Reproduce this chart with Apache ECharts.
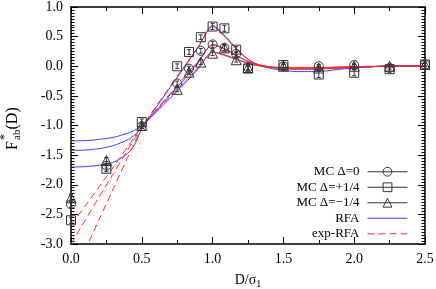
<!DOCTYPE html>
<html>
<head>
<meta charset="utf-8">
<script src="https://cdn.jsdelivr.net/npm/echarts@6/dist/echarts.min.js"></script>
<style>html,body{margin:0;padding:0;background:#fff;}#c{width:436px;height:289px;}</style>
</head>
<body>
<div id="c"></div>
<script>
// ---- data ----
const D_CURVE = [0,0.1,0.2,0.3,0.4,0.45,0.5,0.6,0.7,0.8,0.9,1.0,1.1,1.2,1.3,1.4,1.5,1.6,1.7,1.8,1.9,2.0,2.1,2.2,2.3,2.4,2.5];
const rfaZero  = [-1.42,-1.415,-1.39,-1.34,-1.24,-1.16,-1.03,-0.76,-0.48,-0.22,0.07,0.37,0.28,0.14,0.03,-0.02,-0.04,-0.05,-0.05,-0.04,-0.03,-0.02,-0.01,0.0,0.0,0.01,0.01];
const rfaPlus  = [-1.70,-1.695,-1.67,-1.62,-1.47,-1.32,-1.06,-0.70,-0.36,-0.02,0.33,0.69,0.48,0.22,0.04,-0.03,-0.07,-0.09,-0.09,-0.08,-0.05,-0.03,-0.01,0.0,0.01,0.01,0.01];
const rfaMinus = [-1.26,-1.255,-1.235,-1.20,-1.13,-1.08,-1.00,-0.78,-0.54,-0.30,-0.04,0.24,0.18,0.09,0.02,-0.01,-0.03,-0.03,-0.03,-0.03,-0.02,-0.01,-0.01,0.0,0.0,0.0,0.0];
const expZero  = [-3.00,-2.60,-2.20,-1.81,-1.41,-1.22,-1.02,-0.74,-0.46,-0.18,0.09,0.36,0.27,0.14,0.04,-0.01,-0.03,-0.03,-0.03,-0.03,-0.02,-0.01,-0.01,0.0,0.0,0.0,0.01];
const expPlus  = [-3.63,-3.10,-2.58,-2.06,-1.54,-1.29,-1.03,-0.68,-0.34,0.0,0.33,0.67,0.46,0.21,0.05,-0.01,-0.04,-0.05,-0.05,-0.04,-0.03,-0.02,-0.01,0.0,0.0,0.01,0.01];
const expMinus = [-2.68,-2.36,-2.03,-1.70,-1.36,-1.19,-1.02,-0.76,-0.51,-0.27,-0.02,0.24,0.17,0.09,0.02,-0.01,-0.02,-0.02,-0.02,-0.02,-0.01,-0.01,0.0,0.0,0.0,0.0,0.0];

const D_MC = [0,0.25,0.5,0.75,0.8333,0.9167,1.0,1.0833,1.1667,1.25,1.5,1.75,2.0,2.25,2.5];
const mcZero  = [-2.33,-1.68,-1.01,-0.29,-0.04,0.26,0.37,0.31,0.21,-0.02,0.0,0.0,0.02,-0.03,0.03];
const mcPlus  = [-2.60,-1.73,-0.94,0.00,0.24,0.49,0.67,0.64,0.28,-0.04,0.02,-0.14,-0.11,-0.05,0.03];
const mcMinus = [-2.22,-1.59,-1.00,-0.39,-0.10,0.07,0.22,0.31,0.11,-0.02,0.0,-0.03,0.0,0.0,0.03];
const errZero  = [0.05,0.04,0.04,0.04,0.04,0.04,0.05,0.05,0.04,0.04,0.03,0.03,0.03,0.03,0.03];
const errPlus  = [0.05,0.05,0.05,0.04,0.04,0.04,0.05,0.05,0.05,0.04,0.04,0.05,0.05,0.04,0.03];
const errMinus = [0.06,0.05,0.04,0.04,0.04,0.04,0.04,0.05,0.04,0.04,0.03,0.03,0.03,0.03,0.03];

const X_TICKS = ['0.0','0.5','1.0','1.5','2.0','2.5'];
const NAMES = ['MC Δ=0','MC Δ=+1/4','MC Δ=\u22121/4','RFA','exp-RFA'];

// ---- build ----
const FONT = 'Liberation Serif';
const BLUE = '#3a3aff', RED = '#ff2a2a', MK = '#333';
const pairs = (xs, ys) => xs.map((x, i) => [x, ys[i]]);
const SPLIT = 0.8;
const dashedPart = (ys) => pairs(D_CURVE, ys).filter(p => p[0] <= SPLIT + 1e-9);
const solidPart = (ys) => pairs(D_CURVE, ys).filter(p => p[0] >= SPLIT - 1e-9);

function curve(name, data, color, dashed) {
  return { type:'line', name, data, showSymbol:false, symbol:'circle', symbolSize:0, smooth:0.25,
    lineStyle:{ color, width:1, type: dashed ? [7,4] : 'solid' }, itemStyle:{color}, z:3, silent:true };
}
function mc(name, ys, symbol, size) {
  return { type:'line', name, data: pairs(D_MC, ys), symbol, symbolSize:size, showSymbol:true,
    lineStyle:{ opacity:0, width:0 }, itemStyle:{ color:'rgba(0,0,0,0)', borderColor:MK, borderWidth:1 }, z:5, silent:true };
}
function errBars(name, ys, es) {
  return { type:'custom', name, data: D_MC.map((x,i)=>[x, ys[i], es[i]]), z:6, silent:true,
    renderItem(params, api) {
      const x = api.value(0), y = api.value(1), e = api.value(2);
      const t = api.coord([x, y + e]), b = api.coord([x, y - e]);
      const st = { stroke: MK, lineWidth: 1 };
      return { type:'group', children:[
        { type:'line', shape:{x1:t[0], y1:t[1], x2:b[0], y2:b[1]}, style:st },
        { type:'line', shape:{x1:t[0]-2, y1:t[1], x2:t[0]+2, y2:t[1]}, style:st },
        { type:'line', shape:{x1:b[0]-2, y1:b[1], x2:b[0]+2, y2:b[1]}, style:st }
      ]};
    }
  };
}

const axisCommon = {
  axisLine:{ onZero:false, lineStyle:{ color:'#000', width:1.5 } },
  splitLine:{ show:false },
};
const labelStyle = { fontFamily:FONT, fontSize:14, color:'#000' };

const option = {
  animation:false,
  grid:{ left:71, right:11, top:7, bottom:45, outerBoundsMode:'none', containLabel:false },
  xAxis:[
    Object.assign({ type:'value', min:0, max:2.5, interval:0.5, position:'bottom',
      axisTick:{ inside:true, length:7, lineStyle:{color:'#000'} },
      minorTick:{ show:true, splitNumber:2, length:4, lineStyle:{color:'#000'} },
      axisLabel:Object.assign({ margin:8, formatter:(v)=>X_TICKS[Math.round(v/0.5)] }, labelStyle),
      name:'{a|D/σ}{b|1}', nameLocation:'middle', nameGap:27,
      nameTextStyle:{ rich:{ a:{fontFamily:FONT, fontSize:14, color:'#000', lineHeight:18},
                             b:{fontFamily:FONT, fontSize:10, color:'#000', lineHeight:10, verticalAlign:'bottom'} } }
    }, axisCommon),
    Object.assign({ type:'value', min:0, max:2.5, interval:0.5, position:'top',
      axisTick:{ inside:true, length:7, lineStyle:{color:'#000'} },
      minorTick:{ show:true, splitNumber:2, length:4, lineStyle:{color:'#000'} },
      axisLabel:{ show:false } }, axisCommon)
  ],
  yAxis:[
    Object.assign({ type:'value', min:-3, max:1, interval:0.5, position:'left',
      axisTick:{ inside:true, length:7, lineStyle:{color:'#000'} },
      minorTick:{ show:true, splitNumber:10, length:3.5, lineStyle:{color:'#000'} },
      axisLabel:Object.assign({ margin:8, formatter:(v)=>v.toFixed(1) }, labelStyle) }, axisCommon),
    Object.assign({ type:'value', min:-3, max:1, interval:0.5, position:'right',
      axisTick:{ inside:true, length:7, lineStyle:{color:'#000'} },
      minorTick:{ show:true, splitNumber:10, length:3.5, lineStyle:{color:'#000'} },
      axisLabel:{ show:false } }, axisCommon)
  ],
  legend:{
    orient:'vertical', right:28, top:164, align:'right', itemWidth:40, itemHeight:11, itemGap:0,
    selectedMode:false, padding:0,
    textStyle:{ fontFamily:FONT, fontSize:13, color:'#000', lineHeight:15.5, padding:[0,3,0,0] },
    lineStyle:{ width:1 },
    data:[
      { name:NAMES[0], lineStyle:{opacity:1, width:1, color:MK, type:'solid'}, itemStyle:{color:'rgba(0,0,0,0)', borderColor:MK, borderWidth:1} },
      { name:NAMES[1], lineStyle:{opacity:1, width:1, color:MK, type:'solid'}, itemStyle:{color:'rgba(0,0,0,0)', borderColor:MK, borderWidth:1} },
      { name:NAMES[2], lineStyle:{opacity:1, width:1, color:MK, type:'solid'}, itemStyle:{color:'rgba(0,0,0,0)', borderColor:MK, borderWidth:1} },
      { name:NAMES[3], lineStyle:{width:1, color:BLUE}, itemStyle:{opacity:0} },
      { name:NAMES[4], lineStyle:{width:1, color:RED}, itemStyle:{opacity:0} }
    ]
  },
  graphic:[{
    type:'group', x:18, y:150, rotation:Math.PI/2, silent:true,
    children:[
      { type:'text', x:0, y:3, style:{ text:'F', font:'16px "Liberation Serif"', fill:'#000', verticalAlign:'bottom' } },
      { type:'text', x:10, y:-7, style:{ text:'*', font:'12px "Liberation Serif"', fill:'#000', verticalAlign:'bottom' } },
      { type:'text', x:10, y:5, style:{ text:'ab', font:'11px "Liberation Serif"', fill:'#000', verticalAlign:'bottom' } },
      { type:'text', x:20.5, y:3, style:{ text:'(D)', font:'16px "Liberation Serif"', fill:'#000', verticalAlign:'bottom' } }
    ]
  }],
  series:[
    mc(NAMES[0], mcZero, 'circle', 9),
    mc(NAMES[1], mcPlus, 'rect', 9),
    mc(NAMES[2], mcMinus, 'triangle', 10),
    errBars(NAMES[0], mcZero, errZero),
    errBars(NAMES[1], mcPlus, errPlus),
    errBars(NAMES[2], mcMinus, errMinus),
    curve(NAMES[3], pairs(D_CURVE, rfaZero), BLUE, false),
    curve(NAMES[3], pairs(D_CURVE, rfaPlus), BLUE, false),
    curve(NAMES[3], pairs(D_CURVE, rfaMinus), BLUE, false),
    curve(NAMES[4], dashedPart(expZero), RED, true),
    curve(NAMES[4], dashedPart(expPlus), RED, true),
    curve(NAMES[4], dashedPart(expMinus), RED, true),
    curve(NAMES[4], solidPart(expZero), RED, false),
    curve(NAMES[4], solidPart(expPlus), RED, false),
    curve(NAMES[4], solidPart(expMinus), RED, false)
  ]
};
const chart = echarts.init(document.getElementById('c'), null, { renderer:'canvas' });
chart.setOption(option);
</script>
</body>
</html>
